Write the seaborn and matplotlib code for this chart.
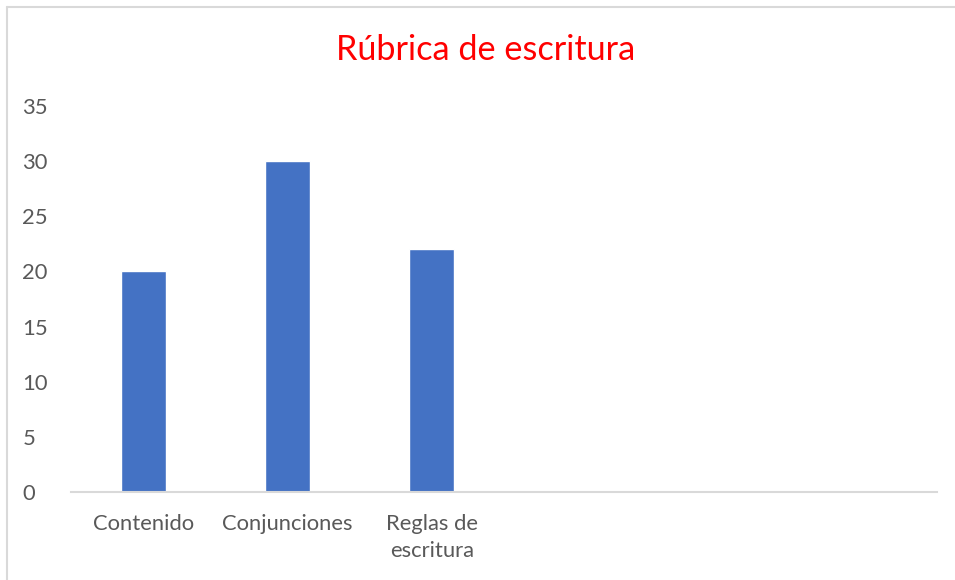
import matplotlib
matplotlib.use("Agg")
import matplotlib.pyplot as plt
import seaborn as sns
import pandas as pd
from matplotlib.lines import Line2D

categories = ["Contenido", "Conjunciones", "Reglas de\nescritura", " ", "  ", "   "]
values = [20, 30, 22, 0, 0, 0]
yticks = [0, 5, 10, 15, 20, 25, 30, 35]
title = "Rúbrica de escritura"

sns.set_theme(style="white")
plt.rcParams['font.family'] = ['Lato', 'DejaVu Sans']

df = pd.DataFrame({"cat": categories, "val": values})

fig = plt.figure(figsize=(9.55, 5.8), dpi=100)
ax = fig.add_axes([71/955, 1-492/580, (937-71)/955, (492-106)/580])

sns.barplot(data=df, x="cat", y="val", color="#4472C4", width=0.31,
            saturation=1, ax=ax, order=categories)
ax.set_xlim(-0.5, 5.5)
ax.set_ylim(0, 35)
ax.set_yticks(yticks)
ax.set_yticklabels([str(t) for t in yticks])
ax.set_xlabel("")
ax.set_ylabel("")
for s in ["top", "right", "left"]:
    ax.spines[s].set_visible(False)
ax.spines["bottom"].set_color("#D9D9D9")
ax.spines["bottom"].set_linewidth(1.5)
ax.tick_params(axis="both", length=0, colors="#595959", labelsize=15.8)
ax.tick_params(axis="x", pad=16)
ax.tick_params(axis="y", pad=35)
for lab in ax.get_yticklabels():
    lab.set_horizontalalignment("left")
for lab in ax.get_xticklabels():
    lab.set_linespacing(1.45)

fig.text(486/955, 1-50/580, title, color="#FF0000", fontsize=24.7,
         ha="center", va="center")

fig.add_artist(Line2D([7/955, 1], [1-7/580, 1-7/580], color="#D9D9D9", lw=1.5,
                      transform=fig.transFigure))
fig.add_artist(Line2D([7/955, 7/955], [0, 1-7/580], color="#D9D9D9", lw=1.5,
                      transform=fig.transFigure))

fig.savefig("out.png", dpi=100, facecolor="white")
